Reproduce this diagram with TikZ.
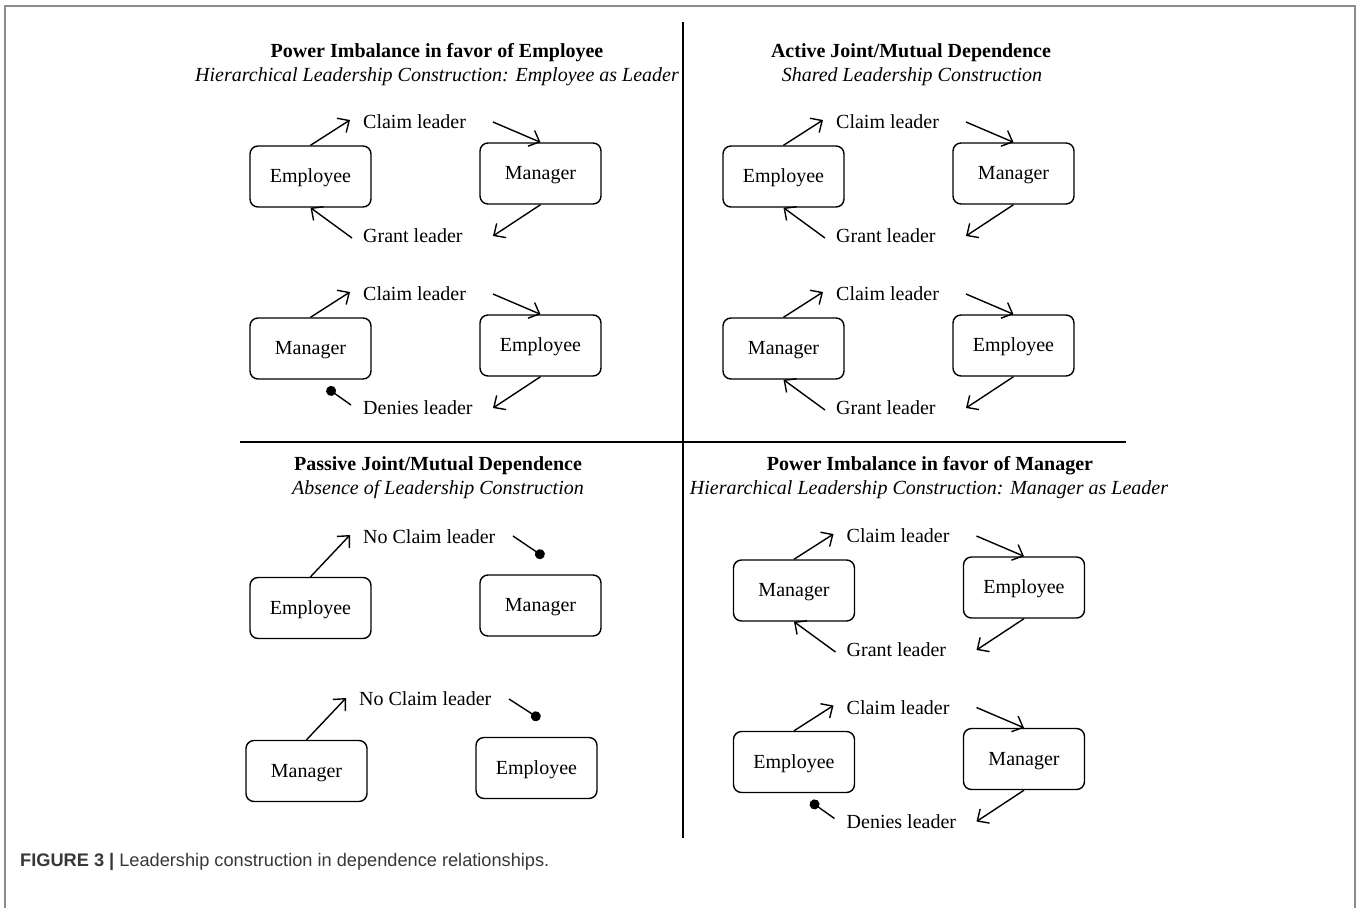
\documentclass[tikz,border=0pt]{standalone}
\usepackage{fontspec}
\setmainfont{Liberation Serif}
\newfontfamily\capfont{Liberation Sans}
\usetikzlibrary{arrows.meta}
\newcommand\RowGrant[3]{%
 \node[box] (#1L) at (310.5,176.5) {#2};
 \node[box] (#1R) at (540.5,173.5) {#3};
 \node[lbl] (#1c) at (363,122) {Claim leader};
 \node[lbl] (#1g) at (363,236) {Grant leader};
 \coordinate (#1p) at (350,120);
 \coordinate (#1q) at (493,122);
 \coordinate (#1r) at (493,236);
 \coordinate (#1s) at (352,238);
 \draw[arr] (#1L.north) -- (#1p);
 \draw[arr] (#1q) -- (#1R.north);
 \draw[arr] (#1R.south) -- (#1r);
 \draw[arr] (#1s) -- (#1L.south);
}
\newcommand\RowDeny[3]{%
 \node[box] (#1L) at (310.5,176.5) {#2};
 \node[box] (#1R) at (540.5,173.5) {#3};
 \node[lbl] (#1c) at (363,122) {Claim leader};
 \node[lbl] (#1g) at (363,236) {Denies leader};
 \coordinate (#1p) at (350,120);
 \coordinate (#1q) at (493,122);
 \coordinate (#1r) at (493,236);
 \coordinate (#1t) at (327,216);
 \coordinate (#1s) at (351,233);
 \draw[arr] (#1L.north) -- (#1p);
 \draw[arr] (#1q) -- (#1R.north);
 \draw[arr] (#1R.south) -- (#1r);
 \draw[dotl] (#1t) -- (#1s);
}
\begin{document}
\begin{tikzpicture}[x=1pt,y=-1pt,
  box/.style={draw,rounded corners=8pt,line width=1.4pt,minimum width=121pt,minimum height=61pt,inner sep=0pt,text height=14pt,text depth=2pt,font=\fontsize{20}{24}\selectfont},
  lbl/.style={anchor=west,inner sep=0pt,font=\fontsize{20}{24}\selectfont},
  ttl/.style={inner sep=0pt,font=\fontsize{20}{24}\selectfont\bfseries},
  sub/.style={inner sep=0pt,font=\fontsize{20}{24}\selectfont\itshape},
  arr/.style={line width=1.4pt,-{Straight Barb[length=9pt,width=17pt,line width=1.4pt]}},
  dotl/.style={line width=1.4pt,{Circle[length=10pt]}-},
  dotr/.style={line width=1.4pt,-{Circle[length=10pt]}},
  rule/.style={line width=1.8pt}
]
\useasboundingbox (0,0) rectangle (1358,908);
\fill[white] (0,0) rectangle (1358,908);
\draw[black!45,line width=2pt] (5,908) -- (5,6) -- (1355,6) -- (1355,908);

% dividers
\coordinate (vt) at (683,22);
\coordinate (vb) at (683,838);
\coordinate (hl) at (240,442);
\coordinate (hr) at (1126,442);
\draw[rule] (vt) -- (vb);
\draw[rule] (hl) -- (hr);

% titles
\node[ttl] (t1) at (437,52.5) {Power Imbalance in favor of Employee};
\node[sub] (s1) at (437,76.5) {Hierarchical Leadership Construction: Employee as Leader};
\node[ttl] (t2) at (911,52.5) {Active Joint/Mutual Dependence};
\node[sub] (s2) at (912,76.5) {Shared Leadership Construction};
\node[ttl] (t3) at (438,465.5) {Passive Joint/Mutual Dependence};
\node[sub] (s3) at (438,489.5) {Absence of Leadership Construction};
\node[ttl] (t4) at (930,465.5) {Power Imbalance in favor of Manager};
\node[sub] (s4) at (929,489.5) {Hierarchical Leadership Construction: Manager as Leader};

% top-left
\begin{scope}\RowGrant{a}{Employee}{Manager}\end{scope}
\begin{scope}[shift={(0,172)}]\RowDeny{b}{Manager}{Employee}\end{scope}
% top-right
\begin{scope}[shift={(473,0)}]\RowGrant{c}{Employee}{Manager}\end{scope}
\begin{scope}[shift={(473,172)}]\RowGrant{d}{Manager}{Employee}\end{scope}
% bottom-right
\begin{scope}[shift={(483.5,414)}]\RowGrant{e}{Manager}{Employee}\end{scope}
\begin{scope}[shift={(483.5,585.5)}]\RowDeny{f}{Employee}{Manager}\end{scope}

% bottom-left
\node[box] (gL) at (310.5,608) {Employee};
\node[box] (gR) at (540.5,605.5) {Manager};
\node[lbl] (gc) at (363,537) {No Claim leader};
\coordinate (gp) at (350,535);
\coordinate (gq) at (513,536);
\coordinate (gd) at (544,557);
\draw[arr] (gL.north) -- (gp);
\draw[dotr] (gq) -- (gd);

\node[box] (hL) at (306.5,771) {Manager};
\node[box] (hR) at (536.5,768) {Employee};
\node[lbl] (hc) at (359,699) {No Claim leader};
\coordinate (hp) at (346,698);
\coordinate (hq) at (509,699);
\coordinate (hd) at (540,719);
\draw[arr] (hL.north) -- (hp);
\draw[dotr] (hq) -- (hd);

% caption
\node[anchor=west,inner sep=0pt,text=black!78,font=\capfont\fontsize{18.2}{22}\selectfont] (cap) at (20,862) {\textbf{FIGURE 3 |} Leadership construction in dependence relationships.};
\end{tikzpicture}
\end{document}
